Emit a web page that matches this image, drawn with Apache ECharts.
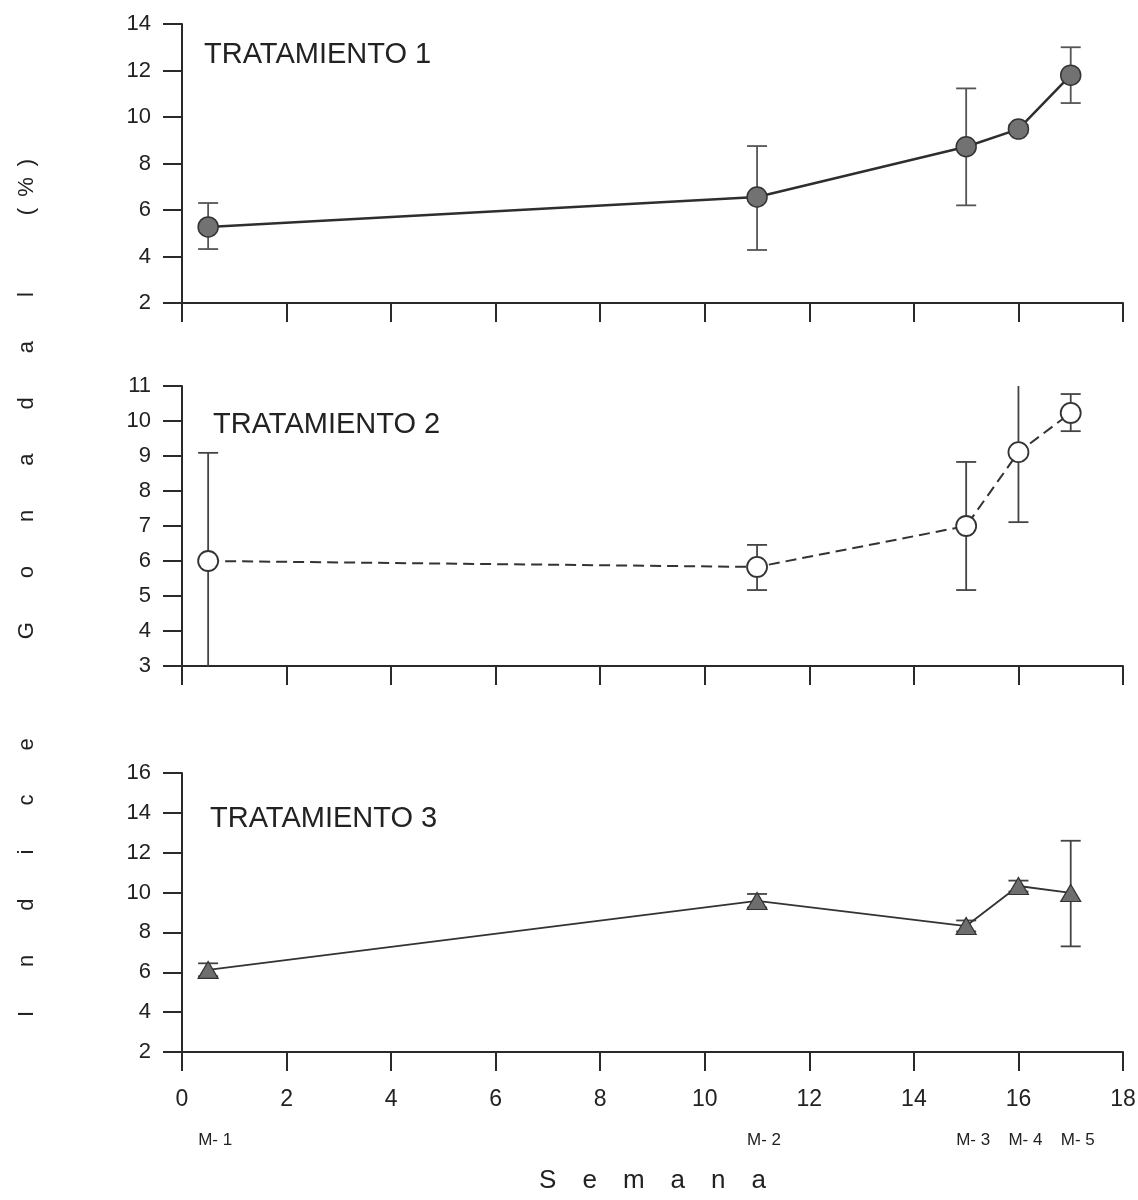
<!DOCTYPE html>
<html>
<head>
<meta charset="utf-8">
<script src="https://cdn.jsdelivr.net/npm/echarts@6/dist/echarts.min.js"></script>
<style>html,body{margin:0;padding:0;background:#fff;}#c{width:1138px;height:1200px;}</style>
</head>
<body>
<div id="c"></div>
<script>
// ---- data ----
const weeks = [0.5, 11, 15, 16, 17];
const sampleLabels = ['M- 1', 'M- 2', 'M- 3', 'M- 4', 'M- 5'];
const panelTitles = ['TRATAMIENTO 1', 'TRATAMIENTO 2', 'TRATAMIENTO 3'];

const t1Mean = [5.27, 6.56, 8.72, 9.48, 11.8];
const t1Low  = [4.32, 4.28, 6.2, 9.3, 10.6];
const t1High = [6.3, 8.75, 11.23, 9.66, 13.0];

const t2Mean = [6.0, 5.83, 7.0, 9.11, 10.23];
const t2Low  = [2.91, 5.17, 5.17, 7.11, 9.71];
const t2High = [9.09, 6.46, 8.83, 11.11, 10.77];

const t3Mean = [6.12, 9.58, 8.32, 10.33, 9.98];
const t3Low  = [5.8, 9.25, 8.05, 10.05, 7.3];
const t3High = [6.45, 9.93, 8.6, 10.6, 12.6];

const yRanges = [[2, 14, 2], [3, 11, 1], [2, 16, 2]];
const xRange = [0, 18, 2];

const yTitle = 'I\u2003\u2003n\u2003\u2003d\u2003\u2003i\u2003\u2003c\u2003\u2003e\u2003\u2003\u2003\u2003\u2002G\u2003\u2003o\u2003\u2003n\u2003\u2003a\u2003\u2003d\u2003\u2003a\u2003\u2003l\u2003\u2003\u2003\u2002(\u2002%\u2002)';
const xTitle = 'S\u2003e\u2003m\u2003a\u2003n\u2003a';

// ---- build ----
const FONT = 'Liberation Sans, Arial, sans-serif';
const AX = '#2a2a2a';
const grids = [
  {left: 182, width: 941, top: 24, height: 279, containLabel: false, outerBoundsMode: 'none'},
  {left: 182, width: 941, top: 386, height: 280, containLabel: false, outerBoundsMode: 'none'},
  {left: 182, width: 941, top: 773, height: 279, containLabel: false, outerBoundsMode: 'none'}
];

function xAxisFor(i) {
  return {
    type: 'value', gridIndex: i, min: xRange[0], max: xRange[1], interval: xRange[2],
    axisLine: {onZero: false, lineStyle: {color: AX, width: 2}},
    axisTick: {inside: false, length: 19, lineStyle: {color: AX, width: 2}},
    splitLine: {show: false},
    axisLabel: i === 2 ? {show: true, fontSize: 23, color: '#222', fontFamily: FONT, margin: 36} : {show: false},
    name: i === 2 ? xTitle : '',
    nameLocation: 'middle', nameGap: 116,
    nameTextStyle: {fontSize: 26, color: '#222', fontFamily: FONT}
  };
}
function yAxisFor(i) {
  const r = yRanges[i];
  return {
    type: 'value', gridIndex: i, min: r[0], max: r[1], interval: r[2],
    axisLine: {show: true, onZero: false, lineStyle: {color: AX, width: 2}},
    axisTick: {show: true, inside: false, length: 19, lineStyle: {color: AX, width: 2}},
    splitLine: {show: false},
    axisLabel: {fontSize: 22, color: '#222', fontFamily: FONT, margin: 31}
  };
}

function errSeries(i, low, high, color) {
  return {
    type: 'custom', xAxisIndex: i, yAxisIndex: i, z: 1,
    data: weeks.map((w, k) => [w, low[k], high[k]]),
    renderItem: function (params, api) {
      const cs = params.coordSys;
      const top = cs.y, bottom = cs.y + cs.height;
      const pLow = api.coord([api.value(0), api.value(1)]);
      const pHigh = api.coord([api.value(0), api.value(2)]);
      const x = pLow[0];
      const yl = Math.min(pLow[1], bottom);
      const yh = Math.max(pHigh[1], top);
      const half = 10;
      const st = {stroke: color, lineWidth: 1.8};
      const children = [{type: 'line', shape: {x1: x, y1: yl, x2: x, y2: yh}, style: st}];
      if (pLow[1] <= bottom) children.push({type: 'line', shape: {x1: x - half, y1: yl, x2: x + half, y2: yl}, style: st});
      if (pHigh[1] >= top) children.push({type: 'line', shape: {x1: x - half, y1: yh, x2: x + half, y2: yh}, style: st});
      return {type: 'group', children: children};
    }
  };
}

const xAxes = [xAxisFor(0), xAxisFor(1), xAxisFor(2), {
  type: 'value', gridIndex: 2, min: xRange[0], max: xRange[1], position: 'bottom',
  axisLine: {show: false}, axisTick: {show: false}, splitLine: {show: false},
  axisLabel: {
    show: true, customValues: weeks, fontSize: 17, color: '#222', fontFamily: FONT, margin: 80,
    padding: [0, 0, 0, 14],
    formatter: function (v) { const k = weeks.indexOf(v); return k >= 0 ? sampleLabels[k] : ''; }
  }
}];

const titleStyle = {fontSize: 29, fontWeight: 'normal', color: '#222', fontFamily: FONT};
const option = {
  backgroundColor: '#fff',
  animation: false,
  textStyle: {fontFamily: FONT},
  grid: grids,
  xAxis: xAxes,
  yAxis: [yAxisFor(0), yAxisFor(1), yAxisFor(2)],
  title: [
    {text: panelTitles[0], left: 204, top: 40, textStyle: titleStyle, padding: 0},
    {text: panelTitles[1], left: 213, top: 410, textStyle: titleStyle, padding: 0},
    {text: panelTitles[2], left: 210, top: 804, textStyle: titleStyle, padding: 0}
  ],
  graphic: [{
    type: 'text', x: 27, y: 588, rotation: Math.PI / 2,
    style: {text: yTitle, fontSize: 22, fill: '#222', fontFamily: FONT, align: 'center', verticalAlign: 'middle'}
  }],
  series: [
    errSeries(0, t1Low, t1High, '#555'),
    {
      type: 'line', xAxisIndex: 0, yAxisIndex: 0, z: 3,
      data: weeks.map((w, k) => [w, t1Mean[k]]),
      symbol: 'circle', symbolSize: 20,
      lineStyle: {color: '#2e2e2e', width: 2.5},
      itemStyle: {color: '#727272', borderColor: '#333', borderWidth: 1.5}
    },
    errSeries(1, t2Low, t2High, '#444'),
    {
      type: 'line', xAxisIndex: 1, yAxisIndex: 1, z: 3,
      data: weeks.map((w, k) => [w, t2Mean[k]]),
      symbol: 'circle', symbolSize: 20,
      lineStyle: {color: '#333', width: 2, type: [11, 6]},
      itemStyle: {color: '#fff', borderColor: '#333', borderWidth: 1.8}
    },
    errSeries(2, t3Low, t3High, '#444'),
    {
      type: 'line', xAxisIndex: 2, yAxisIndex: 2, z: 3,
      data: weeks.map((w, k) => [w, t3Mean[k]]),
      symbol: 'triangle', symbolSize: [20, 17],
      lineStyle: {color: '#333', width: 1.8},
      itemStyle: {color: '#6e6e6e', borderColor: '#333', borderWidth: 1.2}
    }
  ]
};

const chart = echarts.init(document.getElementById('c'), null, {renderer: 'canvas'});
chart.setOption(option);
</script>
</body>
</html>
